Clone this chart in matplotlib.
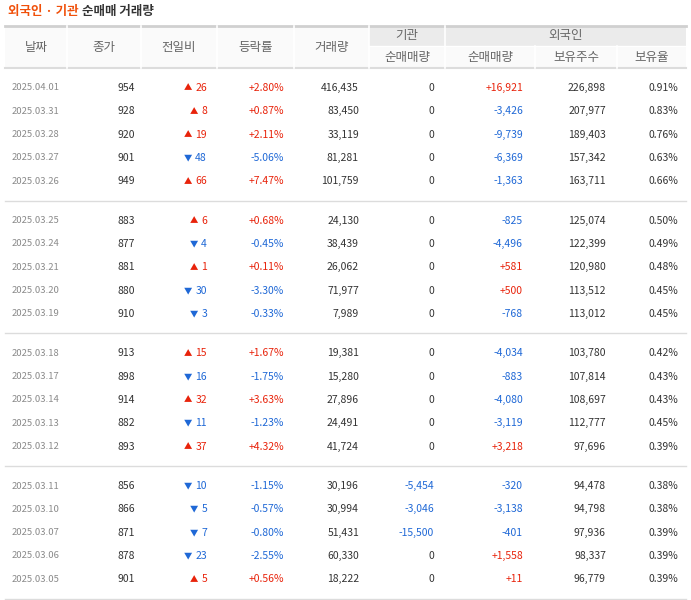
import matplotlib
matplotlib.use("Agg")
import matplotlib.pyplot as plt

plt.rcParams['font.family'] = ['Noto Sans CJK KR']

dates = ["2025.04.01","2025.03.31","2025.03.28","2025.03.27","2025.03.26",
         "2025.03.25","2025.03.24","2025.03.21","2025.03.20","2025.03.19",
         "2025.03.18","2025.03.17","2025.03.14","2025.03.13","2025.03.12",
         "2025.03.11","2025.03.10","2025.03.07","2025.03.06","2025.03.05"]
close = [954,928,920,901,949,883,877,881,880,910,913,898,914,882,893,856,866,871,878,901]
change = [26,8,19,-48,66,6,-4,1,-30,-3,15,-16,32,-11,37,-10,-5,-7,-23,5]
rate = [2.80,0.87,2.11,-5.06,7.47,0.68,-0.45,0.11,-3.30,-0.33,1.67,-1.75,3.63,-1.23,4.32,-1.15,-0.57,-0.80,-2.55,0.56]
volume = [416435,83450,33119,81281,101759,24130,38439,26062,71977,7989,19381,15280,27896,24491,41724,30196,30994,51431,60330,18222]
inst_net = [0,0,0,0,0,0,0,0,0,0,0,0,0,0,0,-5454,-3046,-15500,0,0]
frgn_net = [16921,-3426,-9739,-6369,-1363,-825,-4496,581,500,-768,-4034,-883,-4080,-3119,3218,-320,-3138,-401,1558,11]
frgn_hold = [226898,207977,189403,157342,163711,125074,122399,120980,113512,113012,103780,107814,108697,112777,97696,94478,94798,97936,98337,96779]
frgn_ratio = [0.91,0.83,0.76,0.63,0.66,0.50,0.49,0.48,0.45,0.45,0.42,0.43,0.43,0.45,0.39,0.38,0.38,0.39,0.39,0.39]

W, H = 691, 600
fig = plt.figure(figsize=(W/100, H/100), dpi=100)
ax = fig.add_axes([0, 0, 1, 1])
ax.set_xlim(0, W); ax.set_ylim(H, 0); ax.axis('off')

RED = "#e8230b"; BLUE = "#1f68d6"; TXT = "#333333"; GRAY = "#8a8a8a"
ORANGE = "#f0500a"

ax.text(8, 12, "외국인 · 기관", color=ORANGE, fontsize=9, fontweight='bold', va='center')
ax.text(82, 12, "순매매 거래량", color="#333", fontsize=9, fontweight='bold', va='center')

cols = [5, 67, 141, 217, 294, 369, 445, 535, 617, 686]
top, mid, bot = 26, 46, 68
ax.add_patch(plt.Rectangle((cols[0], top), cols[-1]-cols[0], bot-top, color="#fafafa", lw=0))
ax.add_patch(plt.Rectangle((cols[5], top), cols[-1]-cols[5], mid-top, color="#ebebeb", lw=0))
ax.plot([cols[0], cols[-1]], [top, top], color="#d0d0d0", lw=2)
ax.plot([cols[0], cols[-1]], [bot, bot], color="#dcdcdc", lw=1.5)
ax.plot([cols[5], cols[-1]], [mid, mid], color="#ffffff", lw=1)
for i, x in enumerate(cols[1:-1], start=1):
    y0 = mid if i in (7, 8) else top
    ax.plot([x, x], [y0, bot], color="#ffffff", lw=1.2)
hdr_single = ["날짜", "종가", "전일비", "등락률", "거래량"]
for i, t in enumerate(hdr_single):
    ax.text((cols[i]+cols[i+1])/2, (top+bot)/2, t, ha='center', va='center', fontsize=9, color="#666")
ax.text((cols[5]+cols[6])/2, (top+mid)/2, "기관", ha='center', va='center', fontsize=9, color="#666")
ax.text((cols[6]+cols[-1])/2, (top+mid)/2, "외국인", ha='center', va='center', fontsize=9, color="#666")
for i, t in enumerate(["순매매량", "순매매량", "보유주수", "보유율"]):
    ax.text((cols[5+i]+cols[6+i])/2, (mid+bot)/2, t, ha='center', va='center', fontsize=9, color="#666")

def sgn(v):
    return RED if v > 0 else (BLUE if v < 0 else TXT)

fs = 7.5
for r in range(len(dates)):
    g = r // 5
    y = 88 + (r % 5) * 23.3 + g * 132.7
    ax.text(12, y, dates[r], ha='left', va='center', fontsize=6.8, color=GRAY)
    ax.text(135, y, f"{close[r]:,}", ha='right', va='center', fontsize=fs, color=TXT)
    c = change[r]
    ax.text(207, y, f"{abs(c)}", ha='right', va='center', fontsize=fs, color=sgn(c))
    ax.text(207 - 6.5*len(str(abs(c))) - 2, y, "▲" if c > 0 else "▼", ha='right', va='center',
            fontsize=6, color=sgn(c))
    ax.text(284, y, f"{rate[r]:+.2f}%", ha='right', va='center', fontsize=fs, color=sgn(rate[r]))
    ax.text(359, y, f"{volume[r]:,}", ha='right', va='center', fontsize=fs, color=TXT)
    v = inst_net[r]
    ax.text(434, y, f"{v:,}" if v <= 0 else f"+{v:,}", ha='right', va='center', fontsize=fs, color=sgn(v))
    v = frgn_net[r]
    ax.text(523, y, f"{v:,}" if v <= 0 else f"+{v:,}", ha='right', va='center', fontsize=fs, color=sgn(v))
    ax.text(606, y, f"{frgn_hold[r]:,}", ha='right', va='center', fontsize=fs, color=TXT)
    ax.text(678, y, f"{frgn_ratio[r]:.2f}%", ha='right', va='center', fontsize=fs, color=TXT)
    if r % 5 == 4:
        ax.plot([cols[0], cols[-1]], [y+19.5, y+19.5], color="#dcdcdc", lw=1)

fig.savefig("out.png", dpi=100)
